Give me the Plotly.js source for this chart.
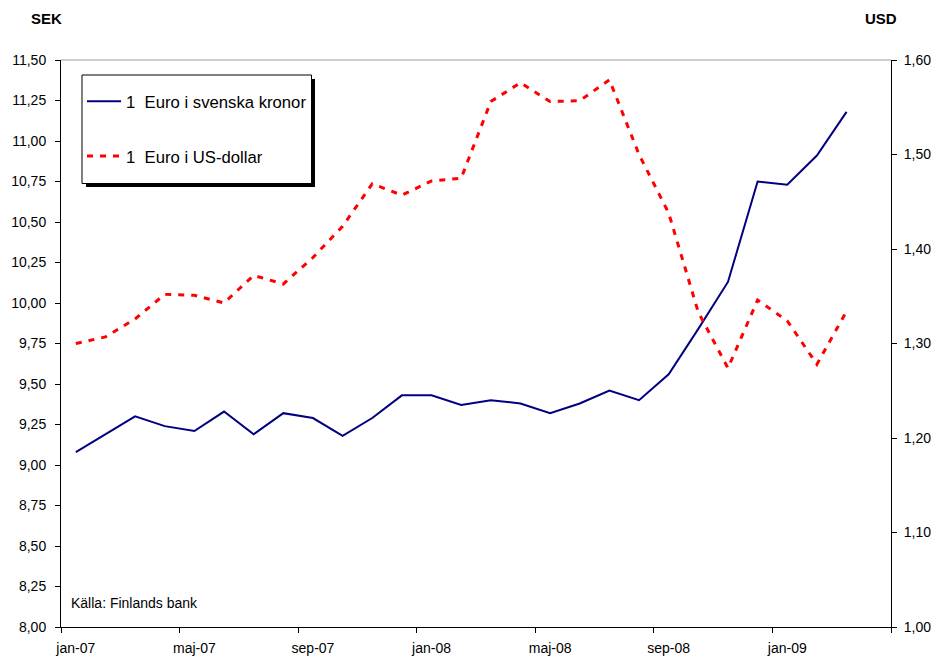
<!DOCTYPE html>
<html>
<head>
<meta charset="utf-8">
<script src="https://cdn.plot.ly/plotly-3.0.1.min.js"></script>
<style>
  html, body { margin: 0; padding: 0; background: #ffffff; }
  #chart { width: 936px; height: 658px; }
</style>
</head>
<body>
<div id="chart"></div>
<script>
// Monthly exchange rates, jan-07 .. mar-09
const months = [
  'jan-07','feb-07','mar-07','apr-07','maj-07','jun-07','jul-07','aug-07','sep-07','okt-07','nov-07','dec-07',
  'jan-08','feb-08','mar-08','apr-08','maj-08','jun-08','jul-08','aug-08','sep-08','okt-08','nov-08','dec-08',
  'jan-09','feb-09','mar-09'
];

// 1 euro in Swedish kronor (left axis)
const eurSek = [
  9.08, 9.19, 9.30, 9.24, 9.21, 9.33, 9.19, 9.32, 9.29, 9.18, 9.29, 9.43,
  9.43, 9.37, 9.40, 9.38, 9.32, 9.38, 9.46, 9.40, 9.56, 9.84, 10.13, 10.75,
  10.73, 10.91, 11.18
];

// 1 euro in US dollars (right axis)
const eurUsd = [
  1.300, 1.307, 1.326, 1.352, 1.351, 1.343, 1.372, 1.363, 1.391, 1.424, 1.469, 1.457,
  1.472, 1.475, 1.556, 1.576, 1.556, 1.557, 1.579, 1.500, 1.438, 1.333, 1.274, 1.346,
  1.324, 1.278, 1.334
];

// Axis labels shown every fourth month
const tickLabels = ['jan-07','maj-07','sep-07','jan-08','maj-08','sep-08','jan-09'];
const seriesNames = ['1  Euro i svenska kronor', '1  Euro i US-dollar'];

const xIdx = months.map((m, i) => i);
const labelPos = tickLabels.map(l => months.indexOf(l));
const nSlots = 28;                     // category slots on the axis (one spare at the end)
const boundaries = [];
for (let b = -0.5; b <= nSlots - 0.5; b += 4) boundaries.push(b);

const font = 'Arial, "Liberation Sans", sans-serif';

// plot-area size in pixels, used to place the legend frame in paper units
const PW = 830, PH = 567;
const px = v => v / PW;               // horizontal pixels from the plot's left edge
const py = v => 1 - v / PH;           // vertical pixels down from the plot's top edge

const traces = [
  {
    x: xIdx, y: eurSek, name: seriesNames[0], type: 'scatter', mode: 'lines',
    line: { color: '#000080', width: 2 },
    legendgroup: 'a', yaxis: 'y'
  },
  {
    x: xIdx, y: eurUsd, name: seriesNames[1], type: 'scatter', mode: 'lines',
    line: { color: '#ff0000', width: 3, dash: '6px,7px' },
    legendgroup: 'b', yaxis: 'y2'
  }
];

const layout = {
  width: 936, height: 658,
  margin: { l: 61, r: 45, t: 60, b: 31, pad: 0 },
  paper_bgcolor: '#ffffff', plot_bgcolor: '#ffffff',
  separators: ',.',
  font: { family: font, size: 14, color: '#000000' },
  showlegend: true,
  legend: {
    x: px(21), y: py(24), xanchor: 'left', yanchor: 'top',
    bgcolor: 'rgba(0,0,0,0)', borderwidth: 0,
    font: { family: font, size: 16.7, color: '#000000' },
    traceorder: 'grouped', tracegroupgap: 30,
    itemwidth: 34
  },
  xaxis: {
    range: [-0.5, nSlots - 0.5],
    tickmode: 'array', tickvals: labelPos, ticktext: tickLabels,
    ticks: '', showgrid: false, zeroline: false,
    showline: true, linecolor: '#000000', linewidth: 1,
    tickfont: { family: font, size: 14, color: '#000000' },
    ticklabelstandoff: 8,
    minor: { tickmode: 'array', tickvals: boundaries, ticks: 'outside', ticklen: 5, tickcolor: '#000000', showgrid: false }
  },
  yaxis: {
    range: [8, 11.5], tickmode: 'linear', tick0: 8, dtick: 0.25, tickformat: '.2f',
    ticks: 'outside', ticklen: 5, tickcolor: '#000000',
    showgrid: false, zeroline: false,
    showline: true, linecolor: '#000000', linewidth: 1,
    tickfont: { family: font, size: 14, color: '#000000' },
    ticklabelstandoff: 6
  },
  yaxis2: {
    range: [1, 1.6], tickmode: 'linear', tick0: 1, dtick: 0.1, tickformat: '.2f',
    overlaying: 'y', side: 'right', anchor: 'x',
    ticks: 'outside', ticklen: 5, tickcolor: '#000000',
    showgrid: false, zeroline: false,
    showline: true, linecolor: '#000000', linewidth: 1,
    tickfont: { family: font, size: 14, color: '#000000' },
    ticklabelstandoff: 4
  },
  shapes: [
    // light frame line along the top of the plot area
    { type: 'line', xref: 'paper', yref: 'paper', x0: 0, x1: 1, y0: 1, y1: 1,
      line: { color: '#a0a0a0', width: 1 } },
    // legend frame: drop shadow, then the white box with a thin border
    { type: 'rect', xref: 'paper', yref: 'paper',
      x0: px(25), x1: px(254), y0: py(127), y1: py(19),
      fillcolor: '#000000', line: { width: 0 }, layer: 'above' },
    { type: 'rect', xref: 'paper', yref: 'paper',
      x0: px(21), x1: px(250.5), y0: py(123.5), y1: py(15),
      fillcolor: '#ffffff', line: { color: '#000000', width: 1 }, layer: 'above' }
  ],
  annotations: [
    { text: '<b>SEK</b>', xref: 'paper', yref: 'paper', x: -61 / PW, y: 1 + 42 / PH,
      xanchor: 'left', yanchor: 'middle', xshift: 29, showarrow: false,
      font: { family: font, size: 15, color: '#000000' } },
    { text: '<b>USD</b>', xref: 'paper', yref: 'paper', x: 1, y: 1 + 42 / PH,
      xanchor: 'center', yanchor: 'middle', xshift: -10, showarrow: false,
      font: { family: font, size: 15, color: '#000000' } },
    { text: 'Källa: Finlands bank', xref: 'paper', yref: 'paper', x: 8 / PW, y: 24 / PH,
      xanchor: 'left', yanchor: 'middle', showarrow: false,
      font: { family: font, size: 14, color: '#000000' } }
  ]
};

Plotly.newPlot('chart', traces, layout, { displayModeBar: false, staticPlot: true });
</script>
</body>
</html>
